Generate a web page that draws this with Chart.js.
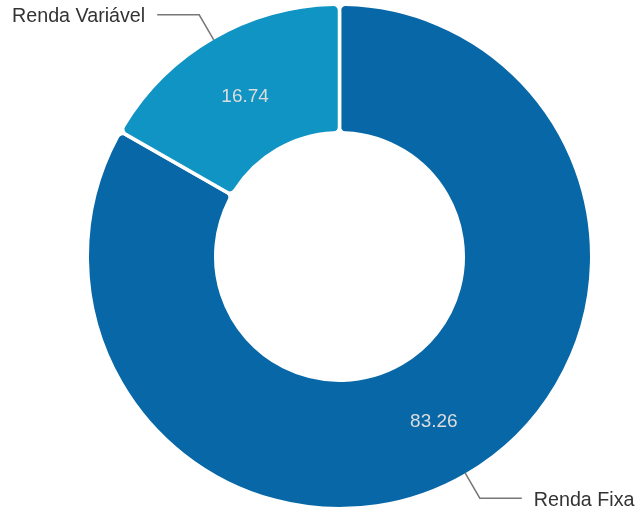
<!DOCTYPE html>
<html>
<head>
<meta charset="utf-8">
<script src="https://cdn.jsdelivr.net/npm/chart.js@4/dist/chart.umd.min.js"></script>
<style>
  html, body { margin: 0; padding: 0; background: #ffffff; }
  #wrap { width: 636px; height: 511px; }
</style>
</head>
<body>
<div id="wrap"><canvas id="c" width="636" height="511"></canvas></div>
<script>
const categories = ['Renda Fixa', 'Renda Variável'];
const values = [83.26, 16.74];
const valueLabels = ['83.26', '16.74'];
const sliceColors = ['#0868A7', '#0F94C4'];

const labelsPlugin = {
  id: 'sliceLabels',
  afterDatasetsDraw(chart) {
    const ctx = chart.ctx;
    const meta = chart.getDatasetMeta(0);
    meta.data.forEach((arc, i) => {
      const p = arc.getProps(['x', 'y', 'startAngle', 'endAngle', 'outerRadius', 'innerRadius'], true);
      const mid = (p.startAngle + p.endAngle) / 2;
      const bw = 1.75;
      const rOut = p.outerRadius - bw;
      const rMid = (p.outerRadius + p.innerRadius) / 2;
      // value label inside
      ctx.save();
      ctx.font = '19px "Liberation Sans", Arial, sans-serif';
      ctx.fillStyle = '#dcdcdc';
      ctx.textAlign = 'center';
      ctx.textBaseline = 'middle';
      ctx.fillText(valueLabels[i], p.x + Math.cos(mid) * rMid, p.y + Math.sin(mid) * rMid + 2.5);
      // leader line
      const sx = p.x + Math.cos(mid) * rOut;
      const sy = p.y + Math.sin(mid) * rOut;
      const ex = p.x + Math.cos(mid) * (rOut + 29);
      const ey = p.y + Math.sin(mid) * (rOut + 29);
      const dir = Math.cos(mid) >= 0 ? 1 : -1;
      const hx = ex + dir * 42;
      ctx.strokeStyle = '#777777';
      ctx.lineWidth = 1.5;
      ctx.beginPath();
      ctx.moveTo(sx, sy);
      ctx.lineTo(ex, ey);
      ctx.lineTo(hx, ey);
      ctx.stroke();
      ctx.font = '19.7px "Liberation Sans", Arial, sans-serif';
      ctx.fillStyle = '#333333';
      ctx.textAlign = dir > 0 ? 'left' : 'right';
      ctx.textBaseline = 'middle';
      ctx.fillText(categories[i], hx + dir * 12, ey + 2);
      ctx.restore();
    });
  }
};

new Chart(document.getElementById('c'), {
  type: 'doughnut',
  data: {
    labels: categories,
    datasets: [{
      data: values,
      backgroundColor: sliceColors,
      borderColor: '#ffffff',
      borderWidth: 3.5,
      borderRadius: 6,
      hoverOffset: 0,
      offset: 0
    }]
  },
  options: {
    responsive: false,
    animation: false,
    devicePixelRatio: 1,
    radius: 252.25,
    cutout: '49.06%',
    layout: { padding: { left: 43, right: 0, top: 2, bottom: 0 } },
    plugins: {
      legend: { display: false },
      tooltip: { enabled: false }
    }
  },
  plugins: [labelsPlugin]
});
</script>
</body>
</html>
